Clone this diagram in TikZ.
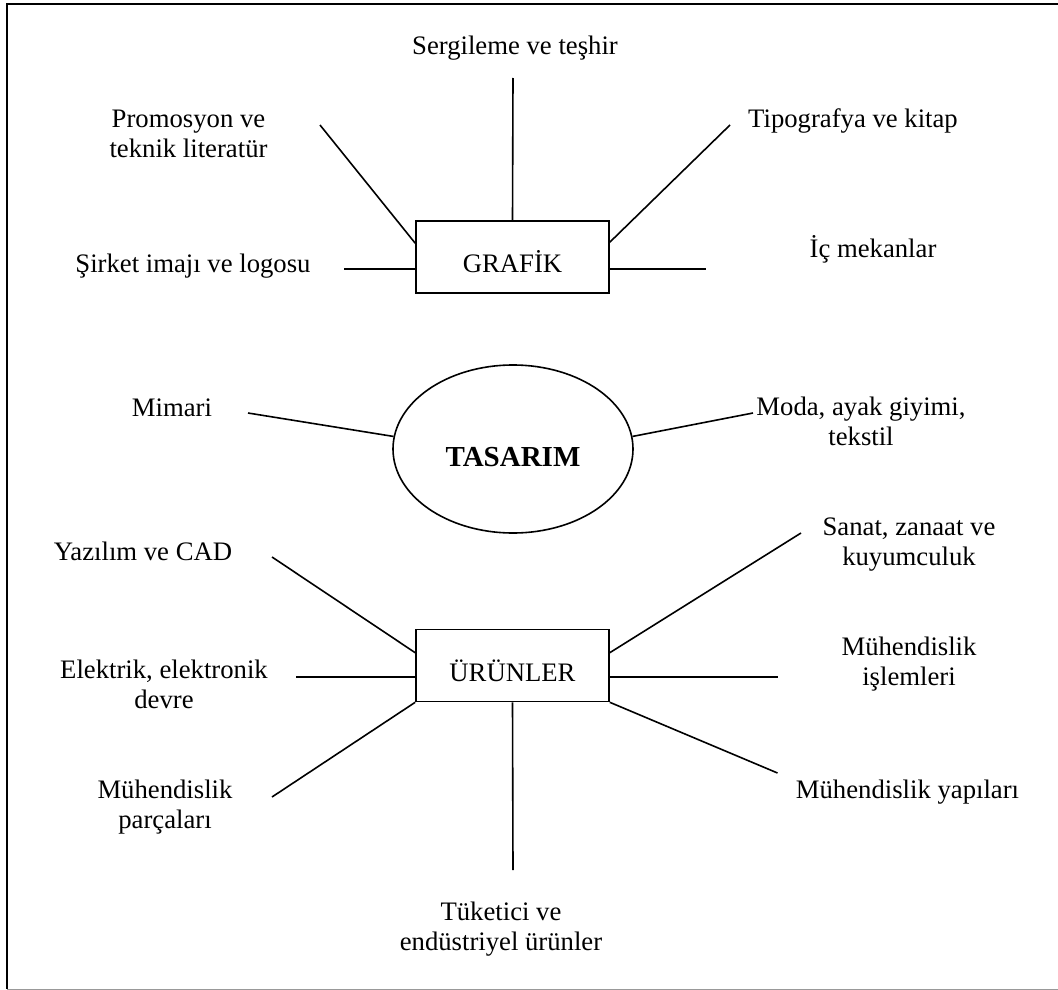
\documentclass[tikz,border=0pt]{standalone}
\usepackage{fontspec}
\setmainfont{Liberation Serif}
\usetikzlibrary{shapes.geometric}

\tikzset{
  every node/.style={font=\fontsize{26.7}{29.5}\selectfont},
  % labels are placed by the baseline of their last line
  lbl/.style={anchor=base, align=center, inner sep=0pt},
  fieldbox/.style={draw, line width=1.6pt, rectangle, inner sep=0pt,
    minimum width=193pt, minimum height=72pt, text height=31pt, text depth=0pt},
  hub/.style={draw, line width=1.6pt, ellipse, inner sep=0pt,
    minimum width=240pt, minimum height=168pt, text height=34pt, text depth=0pt,
    font=\fontsize{29}{32}\selectfont\bfseries},
  spoke/.style={line width=1.6pt},
}

\begin{document}
\begin{tikzpicture}[x=1pt, y=-1pt]
  \useasboundingbox (0,0) rectangle (1058,990);

  % outer frame
  \draw[line width=1.6pt] (1058,4) -- (7,4) -- (7,989);
  \draw[line width=1pt, black!40] (7,989) -- (1058,989);

  % central items
  \node[fieldbox] (grafik) at (512.5,257) {GRAFİK};
  \node[hub] (tasarim) at (513,449) {TASARIM};
  \node[fieldbox] (urunler) at (512.5,665.5) {ÜRÜNLER};

  % labels
  \node[lbl] (serg) at (515,55) {Sergileme ve teşhir};
  \node[lbl] (prom) at (188.5,157) {Promosyon ve\\teknik literatür};
  \node[lbl] (sirk) at (193,272) {Şirket imajı ve logosu};
  \node[lbl] (tipo) at (853,128) {Tipografya ve kitap};
  \node[lbl] (icm) at (873,257) {İç mekanlar};
  \node[lbl] (mim) at (172,416) {Mimari};
  \node[lbl] (moda) at (861,445) {Moda, ayak giyimi,\\tekstil};
  \node[lbl] (yaz) at (143,560) {Yazılım ve CAD};
  \node[lbl] (elek) at (164,708) {Elektrik, elektronik\\devre};
  \node[lbl] (parc) at (165,828) {Mühendislik\\parçaları};
  \node[lbl] (tuk) at (501,950) {Tüketici ve\\endüstriyel ürünler};
  \node[lbl] (san) at (909,565) {Sanat, zanaat ve\\kuyumculuk};
  \node[lbl] (isl) at (909,685) {Mühendislik\\işlemleri};
  \node[lbl] (yap) at (907.5,798) {Mühendislik yapıları};

  % free ends of the spokes
  \coordinate (sergEnd) at (513,78);
  \coordinate (promEnd) at (320,125);
  \coordinate (sirkEnd) at (344,269);
  \coordinate (tipoEnd) at (730,125);
  \coordinate (icmEnd) at (705.5,269);
  \coordinate (mimEnd) at (248,413);
  \coordinate (modaEnd) at (753,413);
  \coordinate (yazEnd) at (272,557);
  \coordinate (elekEnd) at (296,677);
  \coordinate (parcEnd) at (272,797);
  \coordinate (tukEnd) at (513,870);
  \coordinate (sanEnd) at (801,533);
  \coordinate (islEnd) at (777.5,677);
  \coordinate (yapEnd) at (777.5,773);

  % spokes of GRAFİK
  \draw[spoke] (grafik.north) -- (sergEnd);
  \draw[spoke] ([yshift=-23pt]grafik.north west) -- (promEnd);
  \draw[spoke] ([yshift=-12pt]grafik.west) -- (sirkEnd);
  \draw[spoke] ([yshift=-22pt]grafik.north east) -- (tipoEnd);
  \draw[spoke] ([yshift=-12pt]grafik.east) -- (icmEnd);

  % spokes of TASARIM
  \draw[spoke] (tasarim.174) -- (mimEnd);
  \draw[spoke] (tasarim.6) -- (modaEnd);

  % spokes of ÜRÜNLER
  \draw[spoke] ([yshift=-24pt]urunler.north west) -- (yazEnd);
  \draw[spoke] ([yshift=-11.5pt]urunler.west) -- (elekEnd);
  \draw[spoke] (urunler.south west) -- (parcEnd);
  \draw[spoke] (urunler.south) -- (tukEnd);
  \draw[spoke] ([yshift=-24pt]urunler.north east) -- (sanEnd);
  \draw[spoke] ([yshift=-11.5pt]urunler.east) -- (islEnd);
  \draw[spoke] (urunler.south east) -- (yapEnd);
\end{tikzpicture}
\end{document}
